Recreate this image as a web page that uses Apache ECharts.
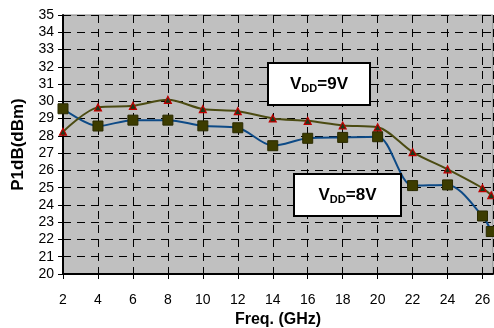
<!DOCTYPE html>
<html>
<head>
<meta charset="utf-8">
<script src="https://cdn.jsdelivr.net/npm/echarts@6/dist/echarts.min.js"></script>
<style>
  html, body { margin: 0; padding: 0; background: #fff; }
  #chart { width: 494px; height: 328px; }
</style>
</head>
<body>
<div id="chart"></div>
<script>
// frequencies (GHz) and P1dB values (dBm)
const freqs = [2, 4, 6, 8, 10, 12, 14, 16, 18, 20, 22, 24, 26, 26.5];
const vdd9 = [28.24, 29.65, 29.74, 30.09, 29.55, 29.43, 29.01, 28.87, 28.6, 28.5, 27.06, 26.06, 24.97, 24.56];
const vdd8 = [29.57, 28.57, 28.91, 28.91, 28.58, 28.47, 27.43, 27.86, 27.91, 27.95, 25.12, 25.16, 23.36, 22.46];

const pairs = (ys) => freqs.map((f, i) => [f, ys[i]]);

const chart = echarts.init(document.getElementById('chart'));
const dash = [8, 6];
const font = 'Liberation Sans, Arial, sans-serif';

function label(text, x, y, w, h) {
    return {
        type: 'group',
        left: x,
        top: y,
        z: 100,
        children: [
            {
                type: 'rect',
                z: 100,
                shape: { x: 0, y: 0, width: w, height: h },
                style: { fill: '#fff', stroke: '#000', lineWidth: 2 }
            },
            {
                type: 'text',
                z: 101,
                x: w / 2,
                y: h / 2,
                style: {
                    text: '{a|V}{b|DD}{a|' + text + '}',
                    align: 'center',
                    verticalAlign: 'middle',
                    rich: {
                        a: { fontSize: 17, fontWeight: 'bold', fontFamily: font, fill: '#000' },
                        b: { fontSize: 11, fontWeight: 'bold', fontFamily: font, fill: '#000', padding: [9, 0, 0, 0] }
                    }
                }
            }
        ]
    };
}

chart.setOption({
    animation: false,
    grid: {
        left: 63, right: 1, top: 15, bottom: 54,
        containLabel: false,
        outerBoundsMode: 'none',
        show: true,
        backgroundColor: '#c0c0c0',
        borderColor: '#808080',
        borderWidth: 1
    },
    xAxis: {
        type: 'value',
        min: 2,
        max: 26.6,
        interval: 2,
        name: 'Freq. (GHz)',
        nameLocation: 'middle',
        nameGap: 38,
        nameTextStyle: { fontSize: 16, fontWeight: 'bold', color: '#000', fontFamily: font },
        axisLine: { lineStyle: { color: '#000', width: 2 } },
        axisTick: { show: true, length: 5, lineStyle: { color: '#000' } },
        axisLabel: { fontSize: 14, color: '#000', margin: 19, fontFamily: font, showMaxLabel: false },
        splitLine: { show: true, lineStyle: { color: '#000', type: dash, width: 1 } }
    },
    yAxis: {
        type: 'value',
        min: 20,
        max: 35,
        interval: 1,
        name: 'P1dB(dBm)',
        nameLocation: 'middle',
        nameGap: 36,
        nameTextStyle: { fontSize: 17, fontWeight: 'bold', color: '#000', fontFamily: font },
        axisLine: { show: true, lineStyle: { color: '#000', width: 2 } },
        axisTick: { show: true, length: 5, lineStyle: { color: '#000' } },
        axisLabel: { fontSize: 14, color: '#000', margin: 9, fontFamily: font },
        splitLine: { show: true, lineStyle: { color: '#000', type: dash, width: 1 } }
    },
    series: [
        {
            name: 'VDD=8V',
            type: 'line',
            data: pairs(vdd8),
            smooth: 0.3,
            symbol: 'rect',
            symbolSize: 10,
            lineStyle: { color: '#0d4a86', width: 2 },
            itemStyle: { color: '#3c3c00', borderColor: '#2a2a00', borderWidth: 1 }
        },
        {
            name: 'VDD=9V',
            type: 'line',
            data: pairs(vdd9),
            smooth: 0.3,
            symbol: 'triangle',
            symbolSize: 7,
            lineStyle: { color: '#4b4b12', width: 2 },
            itemStyle: { color: '#1a3a1a', borderColor: '#c00000', borderWidth: 1.2 }
        }
    ],
    graphic: [
        label('=9V', 267, 62, 102, 42),
        label('=8V', 293, 173, 107, 42)
    ]
});
</script>
</body>
</html>
